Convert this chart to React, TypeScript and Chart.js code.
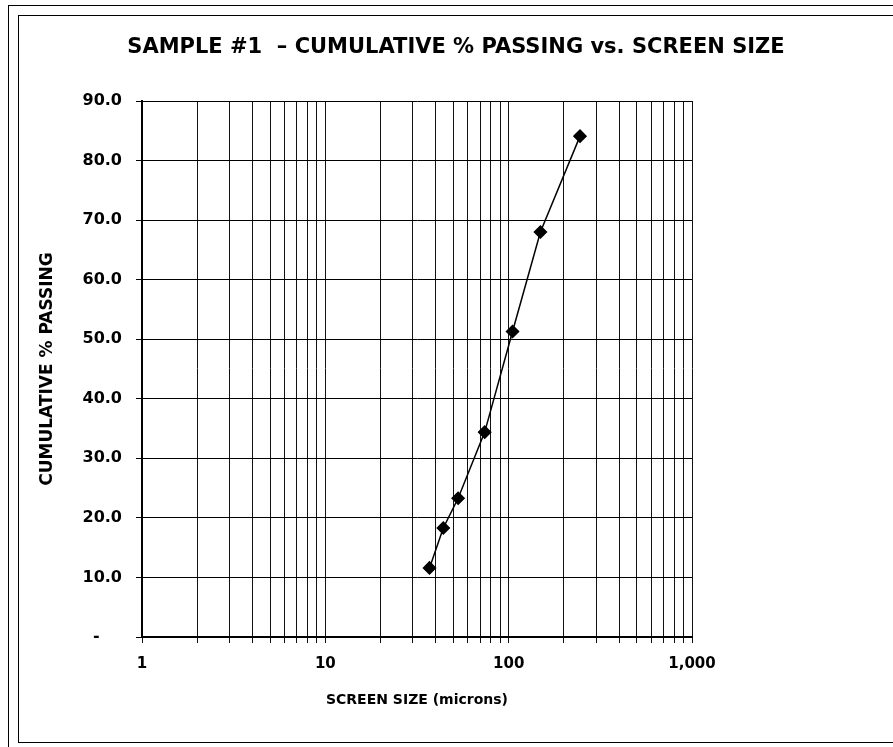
import React, { useEffect, useRef } from 'react';
import { Chart, registerables } from 'chart.js';

Chart.register(...registerables);

// ---- data ----
const screenSizes = [37, 44, 53, 74, 105, 149, 245];
const cumulativePassing = [11.6, 18.3, 23.3, 34.4, 51.3, 68.0, 84.1];
const xTickValues = [1, 10, 100, 1000];
const xTickLabels = ['1', '10', '100', '1,000'];
const xMinorMultipliers = [1, 2, 3, 4, 5, 6, 7, 8, 9];
const yTickValues = [0, 10, 20, 30, 40, 50, 60, 70, 80, 90];

const chartTitle = 'SAMPLE #1  \u2013 CUMULATIVE % PASSING vs. SCREEN SIZE';
const xAxisTitle = 'SCREEN SIZE (microns)';
const yAxisTitle = 'CUMULATIVE % PASSING';

const FONT = '"DejaVu Sans", "Liberation Sans", Arial, sans-serif';

const titlePlugin = {
  id: 'topTitle',
  afterDraw(chart: any) {
    const ctx = chart.ctx;
    ctx.save();
    ctx.font = `bold 21px ${FONT}`;
    ctx.fillStyle = '#000';
    ctx.textAlign = 'center';
    ctx.textBaseline = 'middle';
    ctx.fillText(chartTitle, 456, 48);
    ctx.restore();
  },
};

export default function App() {
  const canvasRef = useRef<HTMLCanvasElement | null>(null);

  useEffect(() => {
    if (!canvasRef.current) return;
    const points = screenSizes.map((x, i) => ({ x, y: cumulativePassing[i] }));
    const xGridValues: number[] = [];
    xTickValues.forEach((decade, i) => {
      if (i === xTickValues.length - 1) {
        xGridValues.push(decade);
      } else {
        xMinorMultipliers.forEach((m) => xGridValues.push(decade * m));
      }
    });
    const chart = new Chart(canvasRef.current, {
      type: 'scatter',
      data: {
        datasets: [
          {
            data: points,
            showLine: true,
            borderColor: '#000',
            backgroundColor: '#000',
            borderWidth: 1.5,
            pointStyle: 'rectRot',
            pointRadius: 6,
            pointHoverRadius: 6,
          },
        ],
      },
      options: {
        animation: false,
        responsive: false,
        devicePixelRatio: 1,
        layout: { padding: { top: 101, right: 201, bottom: 0, left: 0 } },
        plugins: {
          legend: { display: false },
          tooltip: { enabled: false },
          title: { display: false },
        },
        scales: {
          x: {
            type: 'logarithmic',
            min: 1,
            max: 1000,
            afterFit(scale: any) {
              scale.height = 110;
            },
            afterBuildTicks(scale: any) {
              scale.ticks = xGridValues.map((v) => ({ value: v, major: xTickValues.includes(v) }));
            },
            grid: {
              color: '#111',
              lineWidth: 1,
              tickLength: 6,
            },
            border: { color: '#000', width: 2 },
            ticks: {
              autoSkip: false,
              maxRotation: 0,
              padding: 12,
              color: '#000',
              font: { family: FONT, size: 15, weight: 'bold' },
              callback: (value: any) => {
                const idx = xTickValues.indexOf(Number(value));
                return idx >= 0 ? xTickLabels[idx] : '';
              },
            },
            title: {
              display: true,
              text: xAxisTitle,
              color: '#000',
              font: { family: FONT, size: 14, weight: 'bold' },
              padding: 38,
            },
          },
          y: {
            type: 'linear',
            min: 0,
            max: 90,
            afterFit(scale: any) {
              scale.width = 142;
            },
            afterBuildTicks(scale: any) {
              scale.ticks = yTickValues.map((v) => ({ value: v }));
            },
            grid: {
              color: '#000',
              lineWidth: 1,
              tickLength: 6,
            },
            border: { color: '#000', width: 2 },
            ticks: {
              padding: 14,
              color: '#000',
              font: { family: FONT, size: 16, weight: 'bold' },
              callback: (value: any) => (Number(value) === 0 ? '-    ' : Number(value).toFixed(1)),
            },
            title: {
              display: true,
              text: yAxisTitle,
              color: '#000',
              font: { family: FONT, size: 17, weight: 'bold' },
              padding: 37,
            },
          },
        },
      },
      plugins: [titlePlugin],
    });
    return () => chart.destroy();
  }, []);

  return (
    <div
      style={{
        position: 'absolute',
        left: 0,
        top: 0,
        width: 893,
        height: 747,
        overflow: 'hidden',
        background: '#fff',
      }}
    >
      <canvas ref={canvasRef} width={893} height={747} style={{ display: 'block' }} />
      <div
        style={{
          position: 'absolute',
          left: 8,
          top: 5,
          width: 900,
          height: 760,
          borderLeft: '1px solid #000',
          borderTop: '1px solid #000',
          pointerEvents: 'none',
        }}
      />
      <div
        style={{
          position: 'absolute',
          left: 18,
          top: 15,
          width: 900,
          height: 726,
          border: '1.5px solid #000',
          pointerEvents: 'none',
        }}
      />
    </div>
  );
}
